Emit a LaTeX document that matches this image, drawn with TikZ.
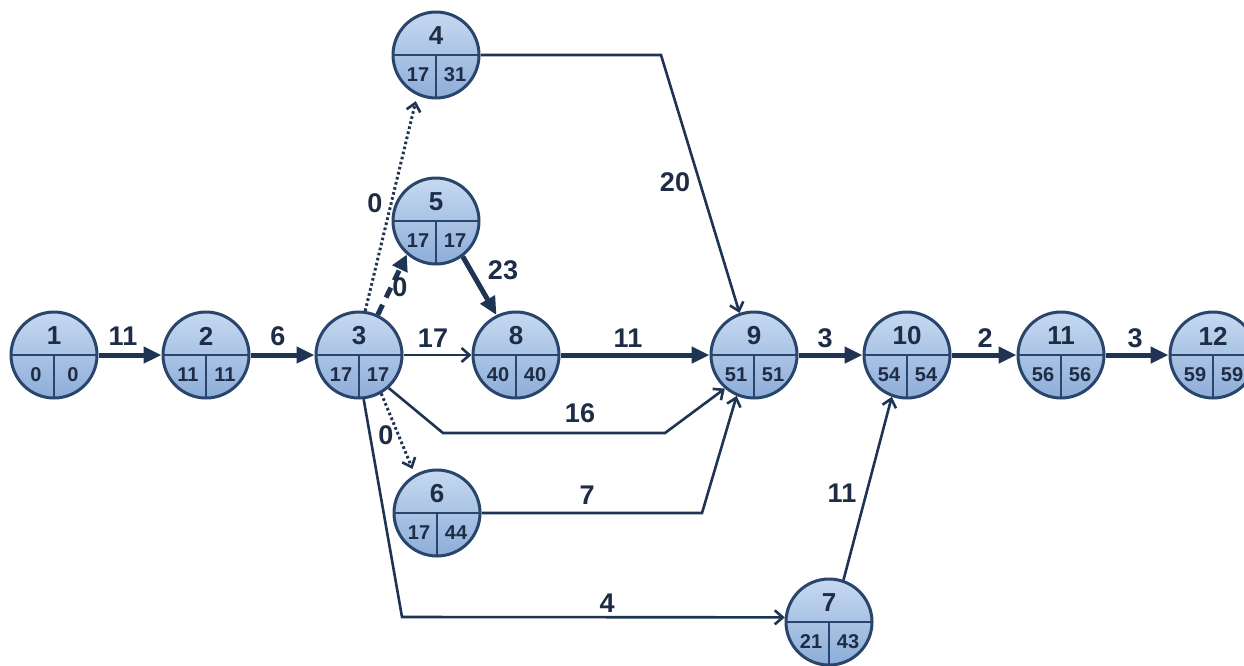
\documentclass[tikz,border=0pt]{standalone}
\usepackage{fontspec}
\setmainfont{Liberation Sans}
\usetikzlibrary{arrows.meta}
\definecolor{evtop}{HTML}{C6D9F1}
\definecolor{evbot}{HTML}{8DADD8}
\definecolor{evborder}{HTML}{29456B}
\definecolor{txt}{HTML}{1E2D45}
\definecolor{edge}{HTML}{1F3352}
\tikzset{
  ev/.style={circle, minimum size=86pt, inner sep=0pt, draw=evborder, line width=3pt, top color=evtop, bottom color=evbot},
  divline/.style={draw=evborder, line width=2.6pt},
  numtxt/.style={text=txt, font=\fontsize{26}{28}\selectfont\bfseries, inner sep=0pt},
  valtxt/.style={text=txt, font=\fontsize{20}{22}\selectfont\bfseries, inner sep=0pt},
  lbl/.style={text=txt, font=\fontsize{27}{29}\selectfont\bfseries, inner sep=0pt},
  crit/.style={draw=edge, line width=5pt, -{Triangle[length=18pt,width=16pt]}},
  thinarr/.style={draw=edge, line width=2.6pt, line join=miter, -{Straight Barb[length=8pt,width=14pt,line width=2.6pt]}},
  dotarr/.style={draw=edge, line width=3pt, dash pattern=on 2.6pt off 2.6pt, -{Straight Barb[length=8pt,width=14pt,line width=2.6pt]}, shorten >=6pt},
  dasharr/.style={draw=edge, line width=5pt, dash pattern=on 11pt off 8pt, -{Triangle[length=16pt,width=16pt]}}
}
\newcommand\EvNode[6]{%
  \node[ev] (n#1) at (#2,#3) {};
  \draw[divline] ([xshift=-42pt]n#1.center) -- ([xshift=42pt]n#1.center);
  \draw[divline] (n#1.center) -- ([yshift=-42pt]n#1.center);
  \node[numtxt] (n#1t) at ([yshift=19pt]n#1.center) {#4};
  \node[valtxt] (n#1e) at ([xshift=-18pt,yshift=-20pt]n#1.center) {#5};
  \node[valtxt] (n#1l) at ([xshift=19pt,yshift=-20pt]n#1.center) {#6};
}
\begin{document}
\begin{tikzpicture}[x=1pt,y=-1pt]
\useasboundingbox[fill=white] (0,0) rectangle (1244,665);
% nodes
\EvNode{1}{54}{355}{1}{0}{0}
\EvNode{2}{206}{355}{2}{11}{11}
\EvNode{3}{359}{355}{3}{17}{17}
\EvNode{4}{436}{55}{4}{17}{31}
\EvNode{5}{436}{221}{5}{17}{17}
\EvNode{6}{437}{513}{6}{17}{44}
\EvNode{7}{829}{622}{7}{21}{43}
\EvNode{8}{516}{355}{8}{40}{40}
\EvNode{9}{754}{355}{9}{51}{51}
\EvNode{10}{907}{355}{10}{54}{54}
\EvNode{11}{1061}{355}{11}{56}{56}
\EvNode{12}{1213}{355}{12}{59}{59}
% bend points
\coordinate (c4) at (661,55);
\coordinate (c16a) at (443,433);
\coordinate (c16b) at (665,433);
\coordinate (c6) at (702,513);
\coordinate (c3b) at (402,617);
% edges
\draw[crit] (n1) -- (n2);
\draw[crit] (n2) -- (n3);
\draw[thinarr] (n3) -- (n8);
\draw[crit] (n8) -- (n9);
\draw[crit] (n9) -- (n10);
\draw[crit] (n10) -- (n11);
\draw[crit] (n11) -- (n12);
\draw[dasharr] (n3.65) -- (n5.229);
\draw[crit] (n5.-53) -- (n8.116);
\draw[dotarr] (n3.82) -- (n4.245);
\draw[dotarr] (n3.-60) -- (n6.120);
\draw[thinarr] (n4.east) -- (c4) -- (n9.109);
\draw[thinarr] (n3.-48) -- (c16a) -- (c16b) -- (n9.229);
\draw[thinarr] (n6.east) -- (c6) -- (n9.247);
\draw[thinarr] (n3.-84) -- (c3b) -- (n7.174);
\draw[thinarr] (n7.71) -- (n10.250);
% edge labels
\node[lbl] (l12) at (123,336) {11};
\node[lbl] (l23) at (278,336) {6};
\node[lbl] (l38) at (433,338) {17};
\node[lbl] (l89) at (628,338) {11};
\node[lbl] (l910) at (825,338) {3};
\node[lbl] (l1011) at (985,338) {2};
\node[lbl] (l1112) at (1135,338) {3};
\node[lbl] (l49) at (675,182) {20};
\node[lbl] (l34) at (375,203) {0};
\node[lbl] (l35) at (400,287) {0};
\node[lbl] (l58) at (503,270) {23};
\node[lbl] (l39) at (580,413) {16};
\node[lbl] (l36) at (386,435) {0};
\node[lbl] (l69) at (587,495) {7};
\node[lbl] (l37) at (607,603) {4};
\node[lbl] (l710) at (842,493) {11};
\end{tikzpicture}
\end{document}
